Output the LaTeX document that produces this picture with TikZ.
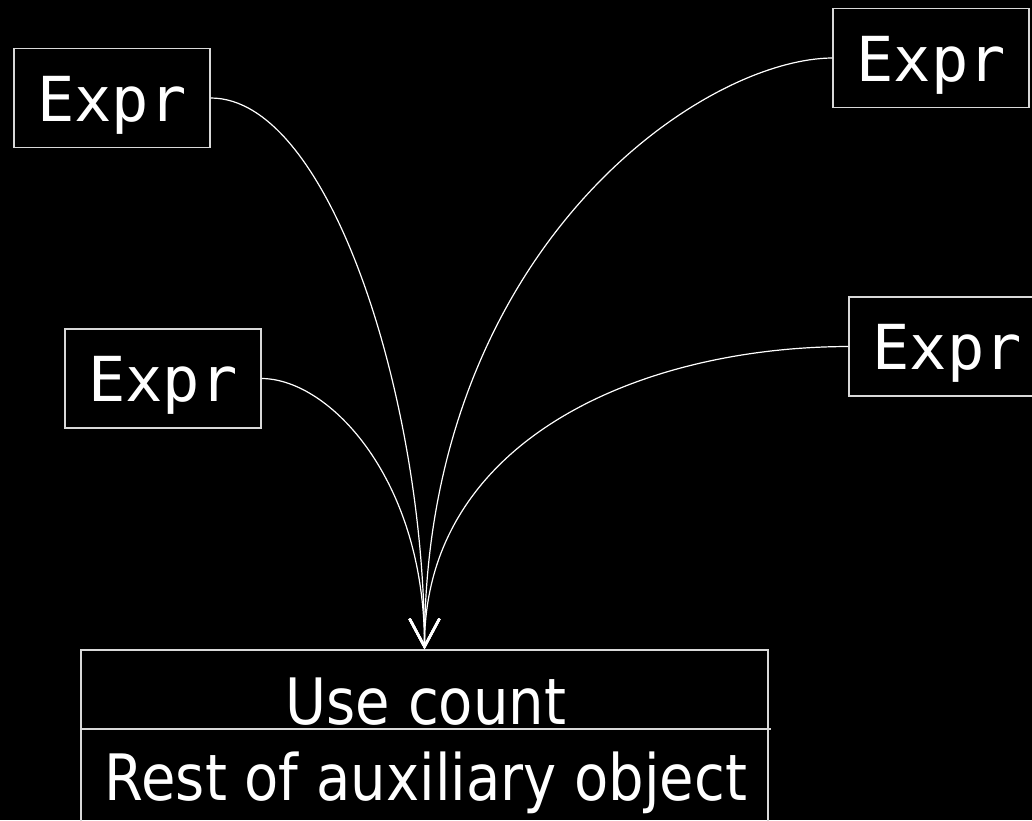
\documentclass[tikz,border=0pt]{standalone}
\usepackage{fontspec}
\usepackage{graphicx}
\usetikzlibrary{arrows.meta}
\newfontfamily\exprfont{DejaVu Sans Mono}
\newfontfamily\auxfont{DejaVu Sans}
\tikzset{
  exprbox/.style={draw=white!85!black, line width=1.5pt, text=white,
    minimum width=196pt, minimum height=99pt, inner sep=0pt,
    text height=46pt, text depth=0pt,
    font=\exprfont\fontsize{62pt}{68pt}\selectfont},
  auxtext/.style={text=white, inner sep=0pt, anchor=base,
    font=\auxfont\fontsize{64pt}{70pt}\selectfont},
  link/.style={draw=white, line width=1.2pt,
    -{Straight Barb[length=28pt,width=30pt,line width=2.5pt]}},
}
\begin{document}
\begin{tikzpicture}[x=1pt,y=-1pt]
\fill[black] (0,0) rectangle (1032,820);
\useasboundingbox (0,0) rectangle (1032,820);
\clip (0,0) rectangle (1032,820);
\node[exprbox] (e1) at (112,98) {Expr};
\node[exprbox] (e2) at (931,58) {Expr};
\node[exprbox] (e3) at (163,378.5) {Expr};
\node[exprbox] (e4) at (947,346.5) {Expr};
\node[draw=white!85!black, line width=1.5pt, minimum width=687pt, minimum height=180pt, inner sep=0pt] (aux) at (424.5,740) {};
\coordinate (divl) at (81,729);
\coordinate (divr) at (771,729);
\draw[white!85!black, line width=1.5pt] (divl) -- (divr);
\node[auxtext] (use) at (426,724.5) {\scalebox{0.875}[1]{Use count}};
\node[auxtext] (rest) at (426,800) {\scalebox{0.875}[1]{Rest of auxiliary object}};
\draw[link] (e1.east) .. controls (330,98) and (424.5,400) .. (aux.north);
\draw[link] (e2.west) .. controls (700,59) and (424.5,250) .. (aux.north);
\draw[link] (e3.east) .. controls (330,379) and (424.5,480) .. (aux.north);
\draw[link] (e4.west) .. controls (640,347) and (424.5,440) .. (aux.north);
\end{tikzpicture}
\end{document}
